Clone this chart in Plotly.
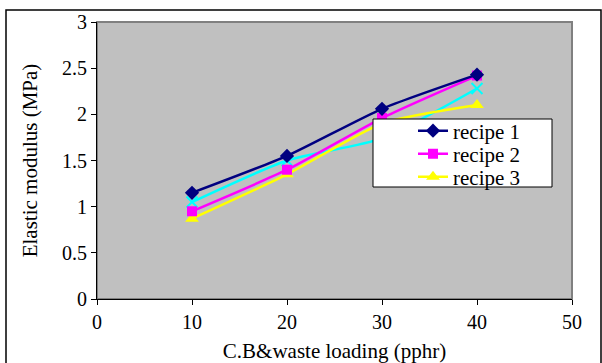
import plotly.graph_objects as go

x_vals = [10, 20, 30, 40]
recipe1 = [1.15, 1.55, 2.06, 2.43]
recipe2 = [0.95, 1.40, 1.96, 2.42]
recipe3 = [0.87, 1.35, 1.90, 2.10]
recipe4 = [1.05, 1.50, 1.74, 2.28]

x_ticks = [0, 10, 20, 30, 40, 50]
y_ticks = [0, 0.5, 1, 1.5, 2, 2.5, 3]
y_tick_text = ["0", "0.5", "1", "1.5", "2", "2.5", "3"]

FONT = "Liberation Serif"

fig = go.Figure()

fig.add_trace(go.Scatter(
    x=x_vals, y=recipe4, name="recipe 4", showlegend=False,
    mode="lines+markers", line=dict(color="#00FFFF", width=2.5, shape="spline", smoothing=0.6),
    marker=dict(symbol="x-thin-open", size=11, color="#00FFFF", line=dict(color="#00FFFF", width=2))))
fig.add_trace(go.Scatter(
    x=x_vals, y=recipe3, name="recipe 3", legend="legend3",
    mode="lines+markers", line=dict(color="#FFFF00", width=2.5, shape="spline", smoothing=0.6),
    marker=dict(symbol="triangle-up", size=12, color="#FFFF00")))
fig.add_trace(go.Scatter(
    x=x_vals, y=recipe2, name="recipe 2", legend="legend2",
    mode="lines+markers", line=dict(color="#FF00FF", width=2.5, shape="spline", smoothing=0.6),
    marker=dict(symbol="square", size=10, color="#FF00FF")))
fig.add_trace(go.Scatter(
    x=x_vals, y=recipe1, name="recipe 1", legend="legend",
    mode="lines+markers", line=dict(color="#000080", width=2.5, shape="spline", smoothing=0.6),
    marker=dict(symbol="diamond", size=11, color="#000080")))

PW, PH, L, T = 475, 277, 97, 22
def px(xp):
    return (xp - L) / PW
def py(yp):
    return (T + PH - yp) / PH

def leg(ycenter):
    return dict(x=px(413), y=py(ycenter), xanchor="left", yanchor="middle",
                bgcolor="rgba(0,0,0,0)", borderwidth=0,
                font=dict(family=FONT, size=21, color="black"))

fig.update_layout(
    width=602, height=363,
    margin=dict(l=L, r=602 - L - PW, t=T, b=363 - T - PH),
    paper_bgcolor="white",
    plot_bgcolor="#C0C0C0",
    font=dict(family=FONT, size=20, color="black"),
    showlegend=True,
    legend=leg(131),
    legend2=leg(154),
    legend3=leg(177),
    xaxis=dict(
        range=[0, 50], tickvals=x_ticks, ticks="outside", ticklen=5,
        tickcolor="black", showline=True, linecolor="black", linewidth=1,
        showgrid=False, zeroline=False, automargin=False,
        title=dict(text="C.B&waste loading (pphr)", standoff=12,
                   font=dict(family=FONT, size=21)),
        tickfont=dict(family=FONT, size=20),
    ),
    yaxis=dict(
        range=[0, 3], tickvals=y_ticks, ticktext=y_tick_text, ticks="outside", ticklen=5,
        tickcolor="black", showline=True, linecolor="black", linewidth=1,
        showgrid=False, zeroline=False, automargin=False,
        title=dict(text="Elastic modulus (MPa)", standoff=18,
                   font=dict(family=FONT, size=21)),
        tickfont=dict(family=FONT, size=20),
    ),
)

# plot area gray frame
fig.add_shape(type="rect", xref="paper", yref="paper", x0=0, y0=0, x1=1, y1=1,
              line=dict(color="#808080", width=2), layer="below")
# legend box
fig.add_shape(type="rect", xref="paper", yref="paper",
              x0=px(373), x1=px(552), y0=py(187), y1=py(119),
              fillcolor="white", line=dict(color="black", width=1), layer="above")
# outer chart border
fig.add_shape(type="rect", xref="paper", yref="paper",
              x0=px(6), x1=px(601), y0=py(370), y1=py(10),
              line=dict(color="black", width=1.5))

fig.write_html("out.html")
